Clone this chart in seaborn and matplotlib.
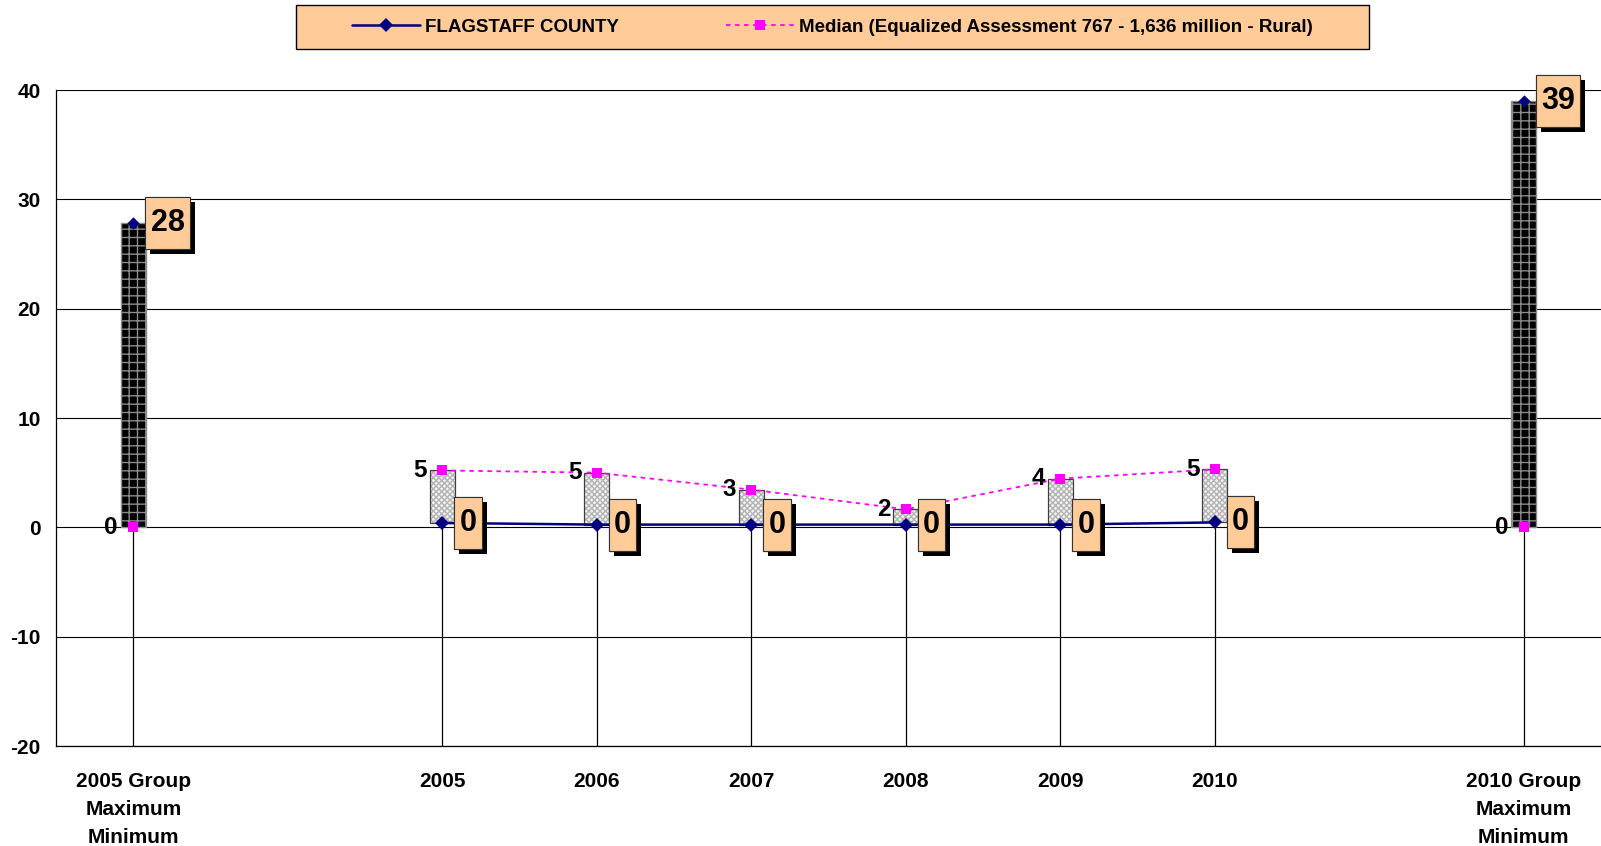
import numpy as np
import matplotlib
matplotlib.use("Agg")
import matplotlib.pyplot as plt
import matplotlib.patheffects as pe
from matplotlib.lines import Line2D
from matplotlib.patches import Rectangle
from matplotlib.path import Path
import seaborn as sns

# slots along the category axis (empty strings are blank slots)
categories = ["2005 Group\nMaximum\nMinimum", "", "2005", "2006", "2007",
              "2008", "2009", "2010", "", "2010 Group\nMaximum\nMinimum"]
flagstaff = [27.8, np.nan, 0.4, 0.25, 0.25, 0.25, 0.25, 0.45, np.nan, 39.0]
median = [0.0, np.nan, 5.2, 5.0, 3.45, 1.65, 4.45, 5.3, np.nan, 0.0]
group_slots = [0, 9]
year_slots = [2, 3, 4, 5, 6, 7]

sns.set_style("white")
plt.rcParams["font.family"] = ["Liberation Sans", "DejaVu Sans"]
plt.rcParams["font.weight"] = "bold"
plt.rcParams["text.color"] = "black"
plt.rcParams["xtick.color"] = "black"
plt.rcParams["ytick.color"] = "black"
plt.rcParams["axes.unicode_minus"] = False

PEACH = "#FFCC99"
NAVY = "#000080"
MAGENTA = "#FF00FF"


def label_box(x0, y0, width, height, mutation_size):
    # square box, narrow at the sides and tall above/below the digits
    px, py = 0.17 * mutation_size, 0.36 * mutation_size
    x0, y0 = x0 - px, y0 - py
    x1, y1 = x0 + width + 2 * px, y0 + height + 2 * py
    return Path([(x0, y0), (x1, y0), (x1, y1), (x0, y1), (x0, y0)], closed=True)


fig = plt.figure(figsize=(16.01, 8.46), dpi=100)
ax = fig.add_axes([56 / 1601, 1 - 746 / 846, 1 - 56 / 1601, (746 - 90) / 846])

pos = np.arange(len(categories))
flag = np.array(flagstaff)
med = np.array(median)
valid = ~np.isnan(flag)

# drop lines from the lower point to the bottom of the axis
lows = np.minimum(flag[valid], med[valid])
ax.vlines(pos[valid], -20, lows, color="black", lw=0.9, zorder=1)

# up / down bars between the two series
w = 0.162
for i in pos[valid]:
    lo, hi = min(flag[i], med[i]), max(flag[i], med[i])
    if flag[i] > med[i]:
        ax.bar(i, hi - lo, bottom=lo, width=w, color="black", edgecolor="#8c8c8c",
               hatch="++", linewidth=1.0, zorder=2)
    else:
        ax.bar(i, hi - lo, bottom=lo, width=w, color="#f2f2f2", edgecolor="#b4b4b4",
               hatch="xxxxxx", linewidth=0, zorder=2)
        ax.bar(i, hi - lo, bottom=lo, width=w, fill=False, edgecolor="#404040",
               linewidth=0.9, zorder=2)

# series lines for the years, single points for the group slots
sns.lineplot(x=pos[year_slots], y=med[year_slots], ax=ax, color=MAGENTA, lw=1.3,
             linestyle=(0, (2.5, 2.5)), marker="s", markersize=7, markeredgewidth=0,
             zorder=4)
sns.lineplot(x=pos[year_slots], y=flag[year_slots], ax=ax, color=NAVY, lw=1.8,
             marker="D", markersize=7, markeredgewidth=0, zorder=5)
sns.scatterplot(x=pos[group_slots], y=med[group_slots], ax=ax, color=MAGENTA,
                marker="s", s=49, linewidth=0, zorder=4)
sns.scatterplot(x=pos[group_slots], y=flag[group_slots], ax=ax, color=NAVY,
                marker="D", s=40, linewidth=0, zorder=5)

# data labels
for i in pos[valid]:
    ax.annotate(f"{med[i]:.0f}", xy=(i, med[i]), xytext=(-11, 0),
                textcoords="offset points", ha="right", va="center",
                fontsize=17.5, fontweight="bold", zorder=6)
    t = ax.annotate(f"{flag[i]:.0f}", xy=(i, flag[i]), xytext=(12.5, 0),
                    textcoords="offset points", ha="left", va="center",
                    fontsize=22, fontweight="bold", zorder=7,
                    bbox=dict(boxstyle=label_box, fc=PEACH, ec="#333333", lw=0.8))
    t.get_bbox_patch().set_path_effects(
        [pe.withSimplePatchShadow(offset=(3.6, -3.6), shadow_rgbFace="black", alpha=1.0),
         pe.Normal()])

# axes
ax.set_xlim(-0.5, len(categories) - 0.5)
ax.set_ylim(-20, 40)
ax.set_yticks(range(-20, 41, 10))
ax.set_xticks(pos)
ax.set_xticklabels(categories, fontsize=15, fontweight="bold", linespacing=1.6)
ax.set_xticks(np.arange(-0.5, len(categories), 1.0), minor=True)
ax.tick_params(axis="x", which="major", length=0, pad=19)
ax.tick_params(axis="x", which="minor", length=5, width=0.9, direction="out")
ax.tick_params(axis="y", length=5, width=0.9, direction="out", labelsize=15, pad=6)
for lab in ax.get_yticklabels():
    lab.set_fontweight("bold")
ax.grid(axis="y", color="black", lw=0.8)
ax.set_axisbelow(True)
sns.despine(ax=ax, top=True, right=True)
for side in ("left", "bottom"):
    ax.spines[side].set_color("black")
    ax.spines[side].set_linewidth(0.9)
ax.set_xlabel("")
ax.set_ylabel("")

# legend box at the top
fig.patches.append(Rectangle((296 / 1601, 1 - 49 / 846), 1073 / 1601, 44 / 846,
                             transform=fig.transFigure, fc=PEACH, ec="black", lw=1.0))
handles = [
    Line2D([], [], color=NAVY, lw=1.8, marker="D", markersize=7, markeredgewidth=0),
    Line2D([], [], color=MAGENTA, lw=1.3, linestyle=(0, (2.5, 2.5)), marker="s",
           markersize=7, markeredgewidth=0),
]
fig.legend(handles, ["FLAGSTAFF COUNTY",
                     "Median (Equalized Assessment 767 - 1,636 million - Rural)"],
           loc="center", bbox_to_anchor=((296 + 1073 / 2) / 1601, 1 - 27 / 846),
           ncol=2, frameon=False, prop=dict(size=13.5, weight="bold"),
           handlelength=3.6, handletextpad=0.3, columnspacing=5.7)

fig.savefig("out.png", dpi=100)
